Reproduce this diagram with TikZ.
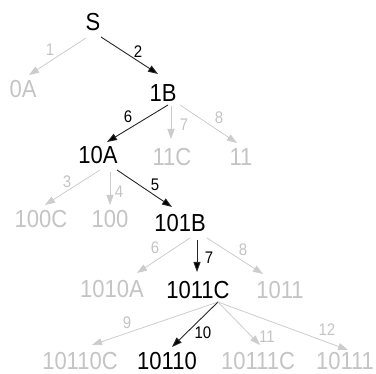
\documentclass[tikz,border=0pt]{standalone}
\usepackage{fontspec}
\setmainfont{Liberation Sans}
\usetikzlibrary{arrows.meta}
\definecolor{dim}{RGB}{204,204,204}
\definecolor{dimtext}{RGB}{196,196,196}
\definecolor{live}{RGB}{40,40,40}
% slightly tall lettering used for states and transition numbers
\newcommand{\tallset}[1]{\scalebox{1}[1.12]{#1}}
\tikzset{
  state/.style={inner sep=0pt, text height=17.6pt, text depth=0pt, font=\fontsize{22}{22}\selectfont},
  deadstate/.style={state, text=dimtext},
  livestate/.style={state, text=black},
  lbl/.style={inner sep=0pt, text height=12pt, text depth=0pt, font=\fontsize{15}{15}\selectfont},
  deadlbl/.style={lbl, text=dimtext},
  livelbl/.style={lbl, text=black},
  deadarc/.style={draw=dim, line width=0.8pt, -{Triangle[length=10pt,width=7pt,fill=dim]}},
  livearc/.style={draw=live, line width=0.9pt, -{Triangle[length=10pt,width=7pt,fill=black]}}
}
\begin{document}
\begin{tikzpicture}[x=1pt,y=-1pt]
\useasboundingbox (0,0) rectangle (376,374);
% states
\node[livestate] (S) at (93,22) {\tallset{S}};
\node[deadstate] (n0A) at (23,89) {\tallset{0A}};
\node[livestate] (n1B) at (163,93) {\tallset{1B}};
\node[livestate] (n10A) at (98,155) {\tallset{10A}};
\node[deadstate] (n11C) at (172,157) {\tallset{11C}};
\node[deadstate] (n11) at (241,157) {\tallset{11}};
\node[deadstate] (n100C) at (41,219) {\tallset{100C}};
\node[deadstate] (n100) at (110,219) {\tallset{100}};
\node[livestate] (n101B) at (180,223) {\tallset{101B}};
\node[deadstate] (n1010A) at (112,289) {\tallset{1010A}};
\node[livestate] (n1011C) at (198,290) {\tallset{1011C}};
\node[deadstate] (n1011) at (280,290) {\tallset{1011}};
\node[deadstate] (n10110C) at (80,361) {\tallset{10110C}};
\node[livestate] (n10110) at (167,361) {\tallset{10110}};
\node[deadstate] (n10111C) at (258,361) {\tallset{10111C}};
\node[deadstate] (n10111) at (345,361) {\tallset{10111}};
% transitions
\draw[deadarc] ([shift={(-7,16)}]S.center) -- ([shift={(6,-14)}]n0A.center);
\draw[livearc] ([shift={(8,15)}]S.center) -- ([shift={(-5,-19)}]n1B.center);
\draw[livearc] ([shift={(5,12)}]n1B.center) -- ([shift={(9,-13)}]n10A.center);
\draw[deadarc] ([shift={(8,13)}]n1B.center) -- ([shift={(-1,-18)}]n11C.center);
\draw[deadarc] ([shift={(17,12)}]n1B.center) -- ([shift={(-4,-14)}]n11.center);
\draw[deadarc] ([shift={(2,15)}]n10A.center) -- ([shift={(4,-14)}]n100C.center);
\draw[deadarc] ([shift={(12,17)}]n10A.center) -- ([shift={(0,-14)}]n100.center);
\draw[livearc] ([shift={(19,15)}]n10A.center) -- ([shift={(-8,-16)}]n101B.center);
\draw[deadarc] ([shift={(10,15)}]n101B.center) -- ([shift={(25,-16)}]n1010A.center);
\draw[livearc] ([shift={(17,17)}]n101B.center) -- ([shift={(-1,-18)}]n1011C.center);
\draw[deadarc] ([shift={(27,15)}]n101B.center) -- ([shift={(-17,-16)}]n1011.center);
\draw[deadarc] ([shift={(20,12)}]n1011C.center) -- ([shift={(12,-16)}]n10110C.center);
\draw[livearc] ([shift={(20,12)}]n1011C.center) -- ([shift={(5,-14)}]n10110.center);
\draw[deadarc] ([shift={(20,12)}]n1011C.center) -- ([shift={(2,-16)}]n10111C.center);
\draw[deadarc] ([shift={(20,12)}]n1011C.center) -- ([shift={(3,-11)}]n10111.center);
% transition numbers
\node[deadlbl] (l1) at (50,50) {\tallset{1}};
\node[livelbl] (l2) at (138,52) {\tallset{2}};
\node[livelbl] (l6a) at (128,117) {\tallset{6}};
\node[deadlbl] (l7a) at (184,125) {\tallset{7}};
\node[deadlbl] (l8a) at (219,118) {\tallset{8}};
\node[deadlbl] (l3) at (67,182) {\tallset{3}};
\node[deadlbl] (l4) at (119,192) {\tallset{4}};
\node[livelbl] (l5) at (155,185) {\tallset{5}};
\node[deadlbl] (l6b) at (155,248) {\tallset{6}};
\node[livelbl] (l7b) at (209,258) {\tallset{7}};
\node[deadlbl] (l8b) at (243,250) {\tallset{8}};
\node[deadlbl] (l9) at (127,323) {\tallset{9}};
\node[livelbl] (l10) at (203,333) {\tallset{10}};
\node[deadlbl] (l11) at (267,337) {\tallset{11}};
\node[deadlbl] (l12) at (327,330) {\tallset{12}};
\end{tikzpicture}
\end{document}
